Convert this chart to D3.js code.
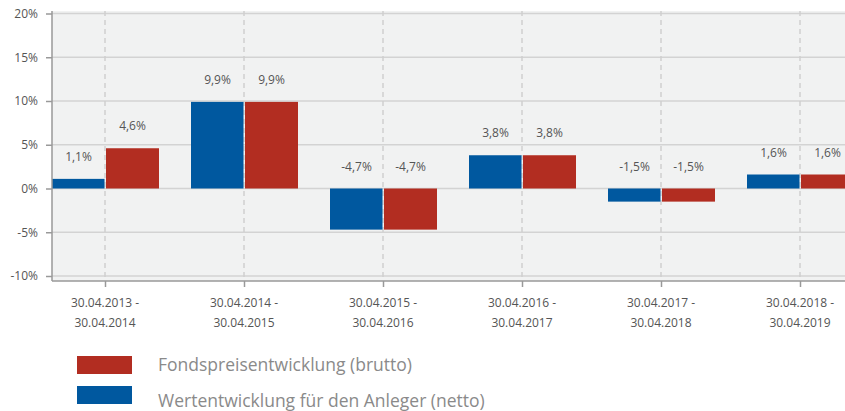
<!DOCTYPE html>
<html>
<head>
<meta charset="utf-8">
<script src="https://cdn.jsdelivr.net/npm/d3@7"></script>
<style>
  body { margin: 0; background: #fff; }
  text { font-family: "Open Sans", "Noto Sans", sans-serif; }
</style>
</head>
<body>
<script>
let width = 845;
let height = 411;

var periods = [
  ['30.04.2013 -', '30.04.2014'],
  ['30.04.2014 -', '30.04.2015'],
  ['30.04.2015 -', '30.04.2016'],
  ['30.04.2016 -', '30.04.2017'],
  ['30.04.2017 -', '30.04.2018'],
  ['30.04.2018 -', '30.04.2019']
];
var netto = [1.1, 9.9, -4.7, 3.8, -1.5, 1.6];
var brutto = [4.6, 9.9, -4.7, 3.8, -1.5, 1.6];
var yTicks = [-10, -5, 0, 5, 10, 15, 20];
var seriesNames = ['Fondspreisentwicklung (brutto)', 'Wertentwicklung für den Anleger (netto)'];

let blue = '#00589f';
let red = '#b22d21';
let plotLeft = 52;
let plotTop = 11;
let plotBottom = 281;
let barWidth = 53;

var svg = d3.select('body')
            .append('svg')
            .attr('width', width)
            .attr('height', height);

var x = d3.scalePoint().domain(d3.range(periods.length)).range([105, 800]);
var y = d3.scaleLinear().domain([-10, 20]).range([276, 13.5]);

// plot background
svg.append('rect').attr('x', plotLeft).attr('y', plotTop)
   .attr('width', width - plotLeft).attr('height', plotBottom - plotTop)
   .attr('fill', '#f1f2f2');

// horizontal grid
svg.selectAll('.grid').data(yTicks).enter().append('line')
   .attr('x1', plotLeft).attr('x2', width)
   .attr('y1', d => y(d)).attr('y2', d => y(d))
   .attr('stroke', '#d3d3d3').attr('stroke-width', 1.5);

// vertical dashed lines
svg.selectAll('.vgrid').data(d3.range(periods.length)).enter().append('line')
   .attr('x1', d => x(d)).attr('x2', d => x(d))
   .attr('y1', plotTop).attr('y2', plotBottom)
   .attr('stroke', '#cfcfcf').attr('stroke-width', 1.5)
   .attr('stroke-dasharray', '5,4');

// bars
svg.selectAll('.netto').data(netto).enter().append('rect')
   .attr('x', (d, i) => x(i) - barWidth)
   .attr('y', d => y(Math.max(0, d)))
   .attr('width', barWidth - 0.5)
   .attr('height', d => Math.abs(y(d) - y(0)))
   .attr('fill', blue);

svg.selectAll('.brutto').data(brutto).enter().append('rect')
   .attr('x', (d, i) => x(i) + 1)
   .attr('y', d => y(Math.max(0, d)))
   .attr('width', barWidth)
   .attr('height', d => Math.abs(y(d) - y(0)))
   .attr('fill', red);

// value labels
function fmt(v) { return String(v.toFixed(1)).replace('.', ',') + '%'; }

function addLabels(data, offset) {
  svg.selectAll(null).data(data).enter().append('text')
     .attr('x', (d, i) => x(i) + offset)
     .attr('y', d => y(Math.max(0, d)) - 18)
     .attr('text-anchor', 'middle')
     .attr('font-size', 12).attr('fill', '#555')
     .text(d => fmt(d));
}
addLabels(netto, -barWidth / 2);
addLabels(brutto, barWidth / 2 + 1);

// y axis
var yAxis = d3.axisLeft(y).tickValues(yTicks).tickSize(6).tickPadding(8)
              .tickFormat(d => d + '%');
var yg = svg.append('g').attr('transform', 'translate(' + plotLeft + ',0)').call(yAxis);
yg.select('.domain').attr('d', 'M0,' + plotTop + 'V' + plotBottom);
yg.selectAll('.domain, .tick line').attr('stroke', '#999').attr('stroke-width', 1.5);
yg.selectAll('text').attr('font-size', 12).attr('fill', '#555')
  .attr('font-family', '"Open Sans", sans-serif');

// x axis
var xAxis = d3.axisBottom(x).tickSize(6).tickFormat('');
var xg = svg.append('g').attr('transform', 'translate(0,' + plotBottom + ')').call(xAxis);
xg.select('.domain').attr('d', 'M' + plotLeft + ',0H' + width);
xg.selectAll('.domain, .tick line').attr('stroke', '#999').attr('stroke-width', 1.5);

svg.selectAll('.xlabel').data(periods).enter().append('text')
   .attr('x', (d, i) => x(i))
   .attr('y', 307)
   .attr('text-anchor', 'middle')
   .attr('font-size', 12).attr('fill', '#555')
   .each(function(d) {
     d3.select(this).append('tspan').attr('x', d3.select(this).attr('x')).text(d[0]);
     d3.select(this).append('tspan').attr('x', d3.select(this).attr('x')).attr('dy', 20).text(d[1]);
   });

// legend
var legendColors = [red, blue];
var legend = svg.selectAll('.legend').data(seriesNames).enter().append('g')
   .attr('transform', (d, i) => 'translate(77,' + (356 + i * 30) + ')');
legend.append('rect').attr('width', 55).attr('height', 18)
      .attr('fill', (d, i) => legendColors[i]);
legend.append('text').attr('x', 81).attr('y', (d, i) => 15 + i * 6)
      .attr('font-size', 17.5).attr('fill', '#8a8a8a')
      .text(d => d);
</script>
</body>
</html>
